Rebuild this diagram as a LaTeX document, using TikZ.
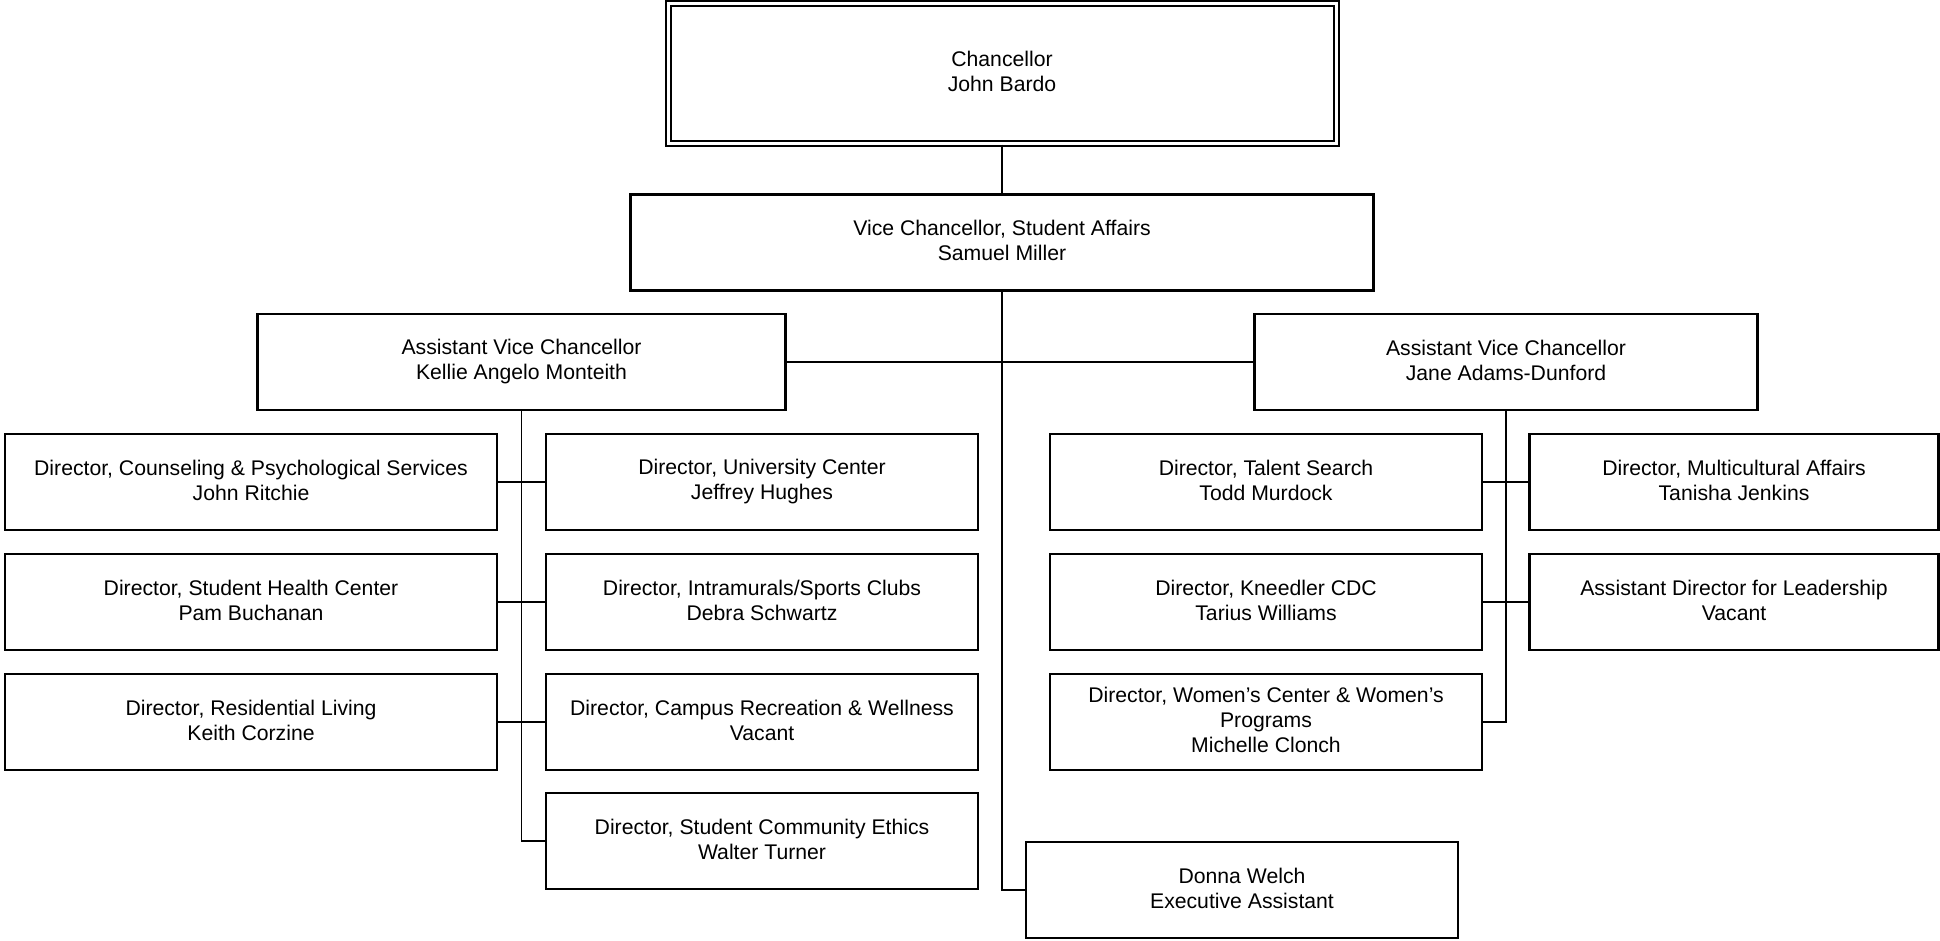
\documentclass[tikz,border=0pt]{standalone}
\usepackage{fontspec}
\setmainfont{Liberation Sans}
\newcommand{\topstrut}{\rule{0pt}{26pt}}
\newcommand{\botstrut}{\rule[-3.5pt]{0pt}{3.5pt}}
\begin{document}
\begin{tikzpicture}[x=1pt, y=-1pt,
    box/.style={draw, line width=2.2pt, inner sep=0pt, align=center,
      font=\fontsize{21.2}{25}\selectfont, minimum height=96pt,
      execute at begin node=\topstrut, execute at end node=\botstrut},
    dirbox/.style={box, minimum width=432pt},
    link/.style={line width=1.8pt}]
  \useasboundingbox (0,0) rectangle (1940,940);

  % 1. Leitung
  \node[box, double, double distance=3pt, line width=2pt,
        minimum width=668pt, minimum height=140pt] (chan) at (1002, 73.5) {Chancellor\\John Bardo};
  \node[box, minimum width=743pt] (vc) at (1002, 242.5) {Vice Chancellor, Student Affairs\\Samuel Miller};

  % 2. Assistant Vice Chancellors
  \node[box, minimum width=528pt] (avcl) at (521.5, 362) {Assistant Vice Chancellor\\Kellie Angelo Monteith};
  \node[box, minimum width=503pt] (avcr) at (1506, 362) {Assistant Vice Chancellor\\Jane Adams-Dunford};

  % 3. Linker Bereich
  \node[box, minimum width=492pt] (counsel) at (251, 482) {Director, Counseling \& Psychological Services\\John Ritchie};
  \node[box, minimum width=492pt] (health)  at (251, 602) {Director, Student Health Center\\Pam Buchanan};
  \node[box, minimum width=492pt] (living)  at (251, 722) {Director, Residential Living\\Keith Corzine};
  \node[dirbox] (ucenter) at (762, 482) {Director, University Center\\Jeffrey Hughes};
  \node[dirbox] (sports)  at (762, 602) {Director, Intramurals/Sports Clubs\\Debra Schwartz};
  \node[dirbox] (rec)     at (762, 722) {Director, Campus Recreation \& Wellness\\Vacant};
  \node[dirbox] (ethics)  at (762, 841) {Director, Student Community Ethics\\Walter Turner};

  % 4. Rechter Bereich
  \node[dirbox] (talent) at (1266, 482) {Director, Talent Search\\Todd Murdock};
  \node[dirbox] (cdc)    at (1266, 602) {Director, Kneedler CDC\\Tarius Williams};
  \node[dirbox] (women)  at (1266, 722) {Director, Women’s Center \& Women’s\\Programs\\Michelle Clonch};
  \node[box, minimum width=409pt] (multi) at (1734, 482) {Director, Multicultural Affairs\\Tanisha Jenkins};
  \node[box, minimum width=409pt] (lead)  at (1734, 602) {Assistant Director for Leadership\\Vacant};

  % 5. Assistenz
  \node[dirbox] (donna) at (1242, 890) {Donna Welch\\Executive Assistant};

  % 6. Verbindungslinien
  \draw[link] (chan.south) -- (vc.north);
  \draw[link] (vc.south) |- (donna.west);
  \draw[link] (avcl.east) -- (avcr.west);

  \draw[link] (avcl.south) |- (ethics.west);
  \draw[link] (counsel.east) -- (ucenter.west);
  \draw[link] (health.east) -- (sports.west);
  \draw[link] (living.east) -- (rec.west);

  \draw[link] (avcr.south) |- (women.east);
  \draw[link] (talent.east) -- (multi.west);
  \draw[link] (cdc.east) -- (lead.west);
\end{tikzpicture}
\end{document}
